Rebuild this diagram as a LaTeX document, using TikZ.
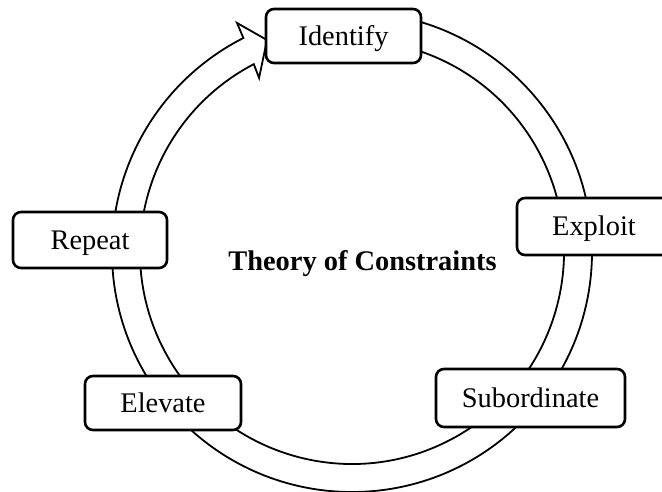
\documentclass[tikz,border=0pt]{standalone}
\usepackage{fontspec}
\setmainfont{Liberation Serif}
\begin{document}
\begin{tikzpicture}[x=1pt,y=1pt,
  stepbox/.style={draw, line width=2.6pt, rounded corners=8pt, fill=white,
    font=\fontsize{28.4}{34}\selectfont, text height=21pt, text depth=2pt, inner sep=0pt},
  ringline/.style={draw, line width=1.8pt, line join=miter},
  titletext/.style={font=\fontsize{28.4}{34}\selectfont\bfseries, inner sep=0pt, anchor=base}]
\useasboundingbox (0,0) rectangle (662,491);
\clip (0,0) rectangle (662,491);
% ring arrow
\begin{scope}[shift={(352pt,239pt)}]
  \path[ringline] (90:240pt) arc[start angle=90, end angle=-243.1, radius=240pt]
    -- (116.66:256.3pt) -- (111.85:228.4pt) -- (118.1:197.3pt) -- (117.6:212pt)
    arc[start angle=-242.4, end angle=90, radius=212pt] -- cycle;
\end{scope}
% boxes
\node[stepbox, minimum width=155pt, minimum height=54pt] (identify) at (343.5,455) {Identify};
\node[stepbox, minimum width=154pt, minimum height=57pt] (exploit) at (594,264.5) {Exploit};
\node[stepbox, minimum width=189pt, minimum height=58pt] (subordinate) at (530.5,93) {Subordinate};
\node[stepbox, minimum width=156pt, minimum height=54pt] (elevate) at (163,88) {Elevate};
\node[stepbox, minimum width=154pt, minimum height=56pt] (repeat) at (90,251) {Repeat};
\node[titletext] (title) at (362.5,221) {Theory of Constraints};
\end{tikzpicture}
\end{document}
